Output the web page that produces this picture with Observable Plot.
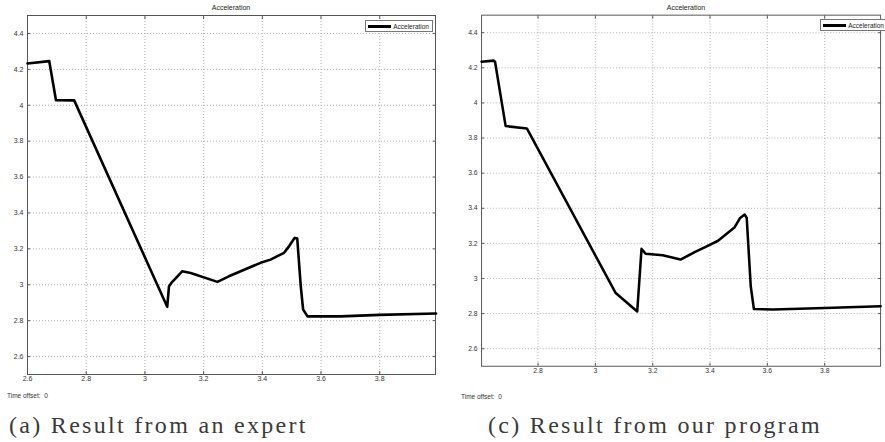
<!DOCTYPE html>
<html>
<head>
<meta charset="utf-8">
<script src="https://cdn.jsdelivr.net/npm/d3@7"></script>
<script src="https://cdn.jsdelivr.net/npm/@observablehq/plot@0.6"></script>
<style>
  html, body { margin: 0; padding: 0; background: #fff; }
  body { width: 885px; height: 442px; overflow: hidden; position: relative; font-family: "Liberation Sans", Arial, sans-serif; }
  .panel { position: absolute; top: 0; }
  .title { position: absolute; top: 4px; font-size: 7px; line-height: 8px; color: #222; transform: translateX(-50%); white-space: nowrap; }
  .offset { position: absolute; font-size: 6.5px; line-height: 8px; color: #333; white-space: pre; }
  .caption { position: absolute; top: 413px; font-family: "Liberation Serif", "DejaVu Serif", serif; font-size: 24px; line-height: 24px; letter-spacing: 2.3px; color: #3a3a3a; white-space: nowrap; }
  .legend { position: absolute; box-sizing: border-box; height: 12px; border: 1px solid #777; background: #fff; display: flex; align-items: center; white-space: nowrap; }
  .legend .swatch { width: 24px; height: 3px; background: #000; margin-left: 2px; margin-right: 2px; }
  .legend .lab { font-size: 6.5px; color: #222; padding-right: 3px; }
</style>
</head>
<body>
<script>
// ---- data ----
const yTicks = [2.6, 2.8, 3, 3.2, 3.4, 3.6, 3.8, 4, 4.2, 4.4];
const xTicksExpert = [2.6, 2.8, 3, 3.2, 3.4, 3.6, 3.8];
const xTicksProgram = [2.8, 3, 3.2, 3.4, 3.6, 3.8];

const expertTime  = [2.600, 2.674, 2.697, 2.759, 3.076, 3.082, 3.090, 3.127, 3.156, 3.247, 3.286, 3.394, 3.428, 3.474, 3.491, 3.510, 3.519, 3.531, 3.539, 3.554, 3.667, 3.800, 3.992];
const expertAccel = [4.233, 4.246, 4.028, 4.027, 2.877, 2.991, 3.010, 3.075, 3.066, 3.016, 3.047, 3.122, 3.140, 3.178, 3.214, 3.261, 3.257, 2.991, 2.862, 2.824, 2.824, 2.832, 2.840];

const programTime  = [2.603, 2.645, 2.650, 2.687, 2.761, 3.070, 3.146, 3.161, 3.175, 3.235, 3.297, 3.348, 3.383, 3.428, 3.485, 3.505, 3.521, 3.528, 3.542, 3.553, 3.621, 3.800, 3.995];
const programAccel = [4.235, 4.241, 4.235, 3.868, 3.855, 2.919, 2.812, 3.169, 3.141, 3.132, 3.108, 3.151, 3.179, 3.215, 3.290, 3.345, 3.364, 3.345, 2.956, 2.826, 2.823, 2.832, 2.842];

const panelTitle = "Acceleration";
const legendLabel = "Acceleration";
const timeOffsetLabel = "Time offset:  0";
const captions = ["(a) Result from an expert", "(c) Result from our program"];

// ---- drawing ----
function panel(time, accel, xTicks, xDomain, marginLeft, width) {
  const data = time.map((t, i) => ({t, a: accel[i]}));
  const gridStyle = {stroke: "#9c9c9c", strokeOpacity: 1, strokeWidth: 0.8, strokeDasharray: "1,2"};
  return Plot.plot({
    width, height: 390,
    marginLeft, marginRight: width - marginLeft - 408, marginTop: 15, marginBottom: 16,
    x: {domain: xDomain, label: null},
    y: {domain: [2.5, 4.5], label: null},
    style: {fontFamily: "Liberation Sans, Arial, sans-serif", fontSize: "7px", color: "#333", background: "transparent", overflow: "visible"},
    marks: [
      Plot.gridX(xTicks, gridStyle),
      Plot.gridY(yTicks, gridStyle),
      Plot.axisX(xTicks, {anchor: "bottom", tickSize: -3, tickPadding: 5, tickFormat: d => String(d), stroke: "#555", label: null}),
      Plot.axisX(xTicks, {anchor: "top", tickSize: -3, tickFormat: () => "", stroke: "#555", label: null}),
      Plot.axisY(yTicks, {anchor: "left", tickSize: -3, tickPadding: 7, tickFormat: d => String(d), stroke: "#555", label: null}),
      Plot.axisY(yTicks, {anchor: "right", tickSize: -3, tickFormat: () => "", stroke: "#555", label: null}),
      Plot.frame({stroke: "#555", strokeWidth: 1}),
      Plot.line(data, {x: "t", y: "a", stroke: "#000", strokeWidth: 2.6, strokeLinejoin: "round", strokeLinecap: "round"})
    ]
  });
}

function addDiv(cls, style, html) {
  const d = document.createElement("div");
  d.className = cls;
  Object.assign(d.style, style);
  d.innerHTML = html;
  document.body.appendChild(d);
  return d;
}

const left = panel(expertTime, expertAccel, xTicksExpert, [2.6, 3.99], 27, 440);
const lw = document.createElement("div"); lw.className = "panel"; lw.style.left = "0px"; lw.appendChild(left); document.body.appendChild(lw);

const right = panel(programTime, programAccel, xTicksProgram, [2.603, 3.995], 42, 455);
const rw = document.createElement("div"); rw.className = "panel"; rw.style.left = "440px"; rw.appendChild(right); document.body.appendChild(rw);

addDiv("title", {left: "231px"}, panelTitle);
addDiv("title", {left: "686px"}, panelTitle);

addDiv("legend", {left: "365px", top: "20px", width: "68px"}, `<span class="swatch"></span><span class="lab">${legendLabel}</span>`);
addDiv("legend", {left: "820px", top: "19px", width: "68px"}, `<span class="swatch"></span><span class="lab">${legendLabel}</span>`);

addDiv("offset", {left: "7px", top: "392px"}, timeOffsetLabel);
addDiv("offset", {left: "461px", top: "393px"}, timeOffsetLabel);

addDiv("caption", {left: "9px"}, captions[0]);
addDiv("caption", {left: "488px"}, captions[1]);
</script>
</body>
</html>
